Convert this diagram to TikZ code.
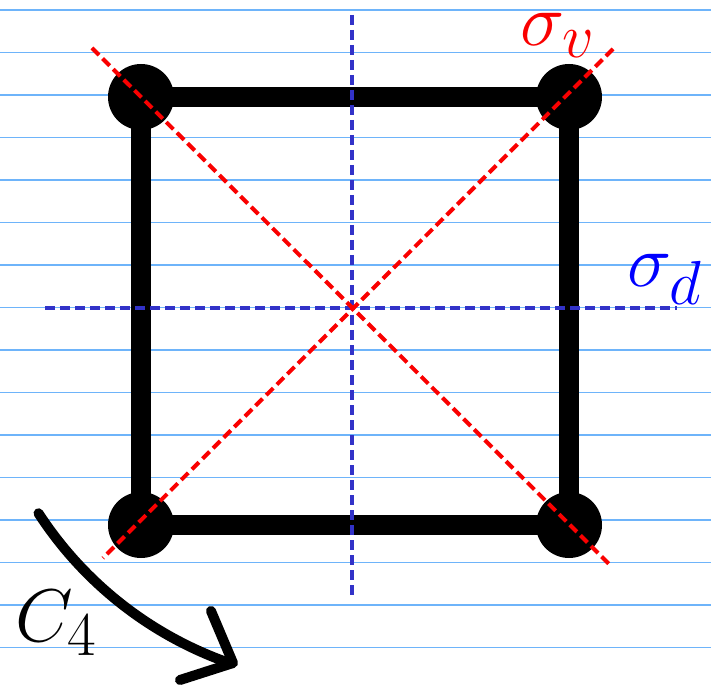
\documentclass[tikz,border=0pt]{standalone}
\usetikzlibrary{calc}
\definecolor{ruled}{RGB}{110,180,250}
\definecolor{axisblue}{RGB}{50,50,200}
\definecolor{mirrorred}{RGB}{250,0,0}
\begin{document}
\begin{tikzpicture}[x=1pt,y=1pt,
  ruleline/.style={draw=ruled, line width=1.3pt},
  vertexdot/.style={circle, fill=black, minimum size=66pt, inner sep=0pt},
  edgeline/.style={line width=20pt},
  redaxis/.style={draw=mirrorred, line width=4pt, dash pattern=on 10pt off 5pt},
  blueaxis/.style={draw=axisblue, line width=4pt, dash pattern=on 10pt off 5pt},
  biglabel/.style={scale=3, font=\Huge, inner sep=0pt, anchor=base west}]
\useasboundingbox (0,0) rectangle (711,686);
\fill[white] (0,0) rectangle (711,686);
% ruled background lines
\foreach \k in {0,...,15}{
  \draw[ruleline] (0,{676-42.5*\k}) -- (711,{676-42.5*\k});
}
% square
\coordinate (tl) at (141,589);
\coordinate (tr) at (569,589);
\coordinate (bl) at (141,161);
\coordinate (br) at (569,161);
\draw[edgeline] (tl) -- (tr) -- (br) -- (bl) -- cycle;
\node[vertexdot] (vtl) at (tl) {};
\node[vertexdot] (vtr) at (tr) {};
\node[vertexdot] (vbl) at (bl) {};
\node[vertexdot] (vbr) at (br) {};
% blue axes
\coordinate (vtop) at (352,671);
\coordinate (vbot) at (352,88);
\coordinate (hleft) at (45,378);
\coordinate (hright) at (677,378);
\draw[blueaxis] (vtop) -- (vbot);
\draw[blueaxis] (hleft) -- (hright);
% red diagonals
\coordinate (d1a) at (92,638);
\coordinate (d1b) at (610,121);
\coordinate (d2a) at (613,637);
\coordinate (d2b) at (103,128);
\draw[redaxis] (d1a) -- (d1b);
\draw[redaxis] (d2a) -- (d2b);
% labels
\node[biglabel, text=mirrorred] (sv) at (520,640) {$\sigma_v$};
\node[biglabel, text=blue] (sd) at (627,399) {$\sigma_d$};
\node[biglabel] (c4) at (15,45) {$C_4$};
% rotation arrow
\coordinate (rc) at (353,377);
\draw[line width=10pt, line cap=round] ($(rc)+(213:375)$) arc[start angle=213, end angle=251, radius=375];
\coordinate (tip) at (233,23);
\coordinate (armA) at (211,75);
\coordinate (armB) at (180,6);
\draw[line width=10pt, line cap=round, line join=round] (armA) -- (tip) -- (armB);
\end{tikzpicture}
\end{document}
